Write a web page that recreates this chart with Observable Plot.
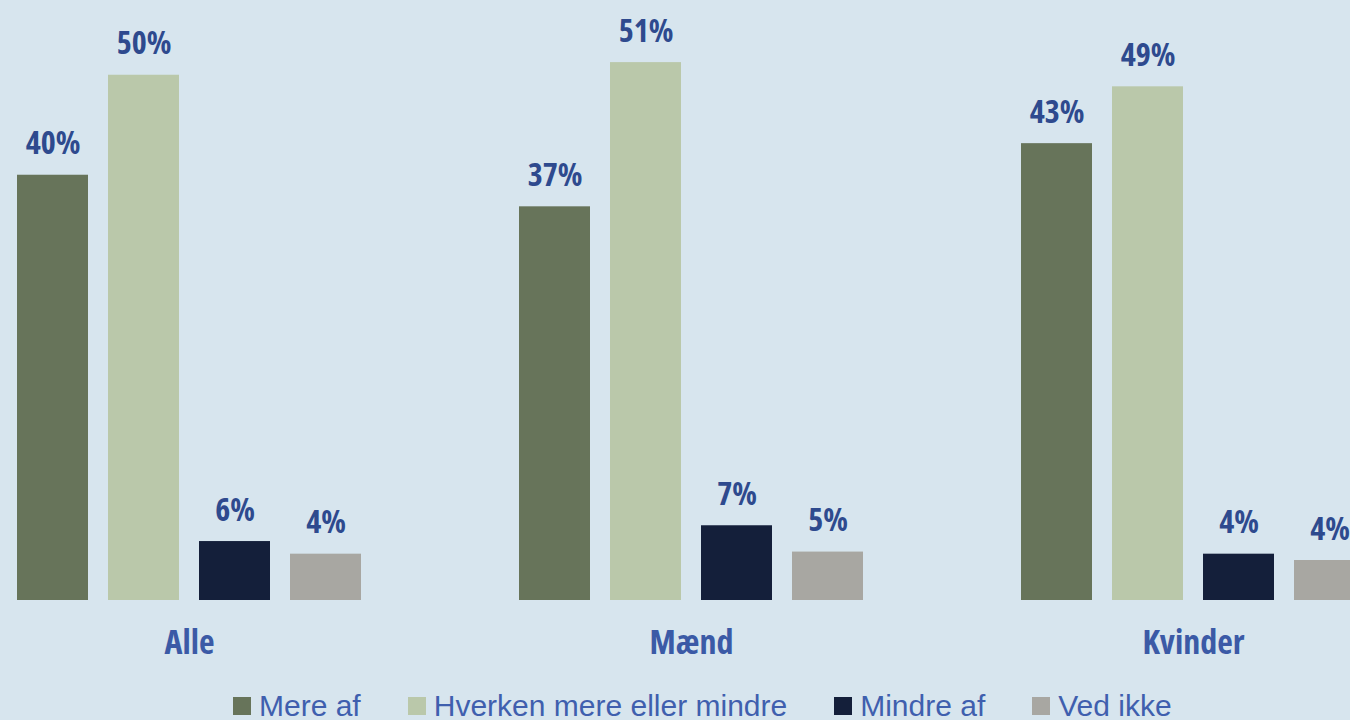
<!DOCTYPE html>
<html><head><meta charset="utf-8">
<script src="https://cdn.jsdelivr.net/npm/d3@7"></script>
<script src="https://cdn.jsdelivr.net/npm/@observablehq/plot@0.6"></script>
<style>
html,body{margin:0;padding:0;background:#d7e5ee;overflow:hidden;width:1350px;height:720px}
#chart svg{display:block;max-width:none !important}
#legend{padding-left:233px;height:50px;box-sizing:border-box;padding-top:19px}
#legend > div{margin:0 !important;font-family:"Liberation Sans",Arial,sans-serif !important;font-size:30px !important;color:#3f5fae !important;line-height:30px}
#legend span{margin-right:47px !important}
#legend span svg{margin-right:8px !important}
</style></head><body><div id="chart"></div><div id="legend"></div>
<script>
const groups = ["Alle", "Mænd", "Kvinder"];
const answers = ["Mere af", "Hverken mere eller mindre", "Mindre af", "Ved ikke"];
const colors = ["#67745a", "#bac8aa", "#141f3a", "#a8a7a2"];
const alle = [40.4, 49.9, 5.6, 4.4];
const maend = [37.4, 51.1, 7.1, 4.6];
const kvinder = [43.4, 48.8, 4.4, 3.8];

const data = [alle, maend, kvinder].flatMap((vals, i) =>
  vals.map((v, j) => ({group: groups[i], answer: answers[j], value: v})));

const boldFont = "'Open Sans', 'DejaVu Sans Condensed', sans-serif";

const plot = Plot.plot({
  width: 1368, height: 670,
  marginLeft: 15, marginRight: 0, marginTop: 0, marginBottom: 70,
  style: {background: "transparent", overflow: "visible", maxWidth: "none"},
  fx: {domain: groups, paddingInner: 0.31, paddingOuter: 0, axis: null, label: null},
  x: {domain: answers, paddingInner: 0.2145, paddingOuter: 0, axis: null},
  y: {domain: [0, 57], axis: null},
  color: {domain: answers, range: colors},
  marks: [
    Plot.barY(data, {fx: "group", x: "answer", y: "value", fill: "answer"}),
    Plot.text(data, {fx: "group", x: "answer", y: "value", text: d => Math.round(d.value) + "%",
      lineAnchor: "bottom", dy: -21, fill: "#2e4a8e", fontSize: 32, fontWeight: "bold", fontFamily: boldFont}),
    Plot.text(groups, {fx: d => d, frameAnchor: "bottom", lineAnchor: "top", dy: 29, text: d => d,
      fill: "#3b5aa6", fontSize: 34, fontWeight: "bold", fontFamily: boldFont})
  ]
});
d3.select(plot).selectAll('g[aria-label="text"] text').style("font-stretch", "75%");
document.getElementById("chart").appendChild(plot);

const legend = plot.legend("color", {swatchSize: 18});
document.getElementById("legend").appendChild(legend);
</script></body></html>
